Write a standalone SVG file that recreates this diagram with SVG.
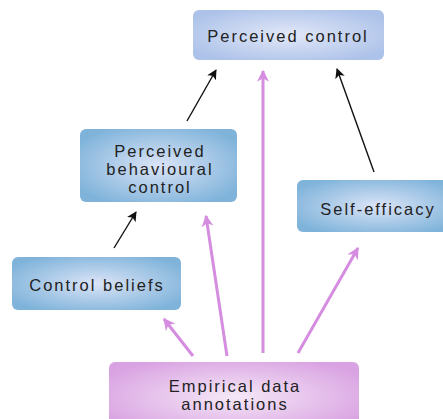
<svg xmlns="http://www.w3.org/2000/svg" width="443" height="419" viewBox="0 0 443 419">
<defs>
<radialGradient id="gBlue" cx="0.5" cy="0.5" r="0.6">
<stop offset="0" stop-color="#dbe4f7"/>
<stop offset="1" stop-color="#7fb3da"/>
</radialGradient>
<radialGradient id="gPC" cx="0.5" cy="0.5" r="0.6">
<stop offset="0" stop-color="#e2e8f8"/>
<stop offset="1" stop-color="#adc2e9"/>
</radialGradient>
<radialGradient id="gPur" cx="0.5" cy="0.5" r="0.6">
<stop offset="0" stop-color="#f5e8f7"/>
<stop offset="1" stop-color="#d9a2e2"/>
</radialGradient>
<marker id="mBlack" viewBox="0 0 10 10" refX="9" refY="5" markerWidth="10" markerHeight="10" markerUnits="userSpaceOnUse" orient="auto">
<path d="M0,0 L10,5 L0,10 L2.5,5 Z" fill="#111"/>
</marker>
<marker id="mPur" viewBox="0 0 10 10" refX="9" refY="5" markerWidth="12" markerHeight="12" markerUnits="userSpaceOnUse" orient="auto">
<path d="M0,0 L10,5 L0,10 L3,5 Z" fill="#d58de0"/>
</marker>
</defs>
<style>
text { font-family: "Liberation Sans", Arial, sans-serif; font-size: 16.5px; fill: #222; letter-spacing: 2px; text-anchor: middle; }
.blk { stroke: #111; stroke-width: 1.4; fill: none; marker-end: url(#mBlack); }
.pur { stroke: #d58de0; stroke-width: 3; fill: none; marker-end: url(#mPur); }
</style>
<g id="connectors">
<line class="blk" x1="187" y1="121" x2="216" y2="70"/>
<line class="blk" x1="374" y1="172" x2="337" y2="69"/>
<line class="blk" x1="114" y1="248" x2="136" y2="212"/>
<line class="pur" x1="193" y1="356" x2="164" y2="319"/>
<line class="pur" x1="227" y1="356" x2="206" y2="216"/>
<line class="pur" x1="263" y1="353" x2="263" y2="71"/>
<line class="pur" x1="298" y1="353" x2="358" y2="248"/>
</g>
<g id="perceived-control">
<rect x="193" y="10" width="191" height="50" rx="6" fill="url(#gPC)"/>
<text x="288" y="42">Perceived control</text>
</g>
<g id="pbc">
<rect x="80" y="129" width="157" height="73" rx="6" fill="url(#gBlue)"/>
<text x="160" y="157">Perceived</text>
<text x="160" y="175">behavioural</text>
<text x="160" y="193">control</text>
</g>
<g id="control-beliefs">
<rect x="12" y="257" width="169" height="53" rx="6" fill="url(#gBlue)"/>
<text x="97" y="291">Control beliefs</text>
</g>
<g id="self-efficacy">
<rect x="297" y="180" width="160" height="52" rx="6" fill="url(#gBlue)"/>
<text x="378" y="215">Self-efficacy</text>
</g>
<g id="empirical">
<rect x="109" y="362" width="250" height="70" rx="6" fill="url(#gPur)"/>
<text x="235" y="392">Empirical data</text>
<text x="235" y="410">annotations</text>
</g>
</svg>
